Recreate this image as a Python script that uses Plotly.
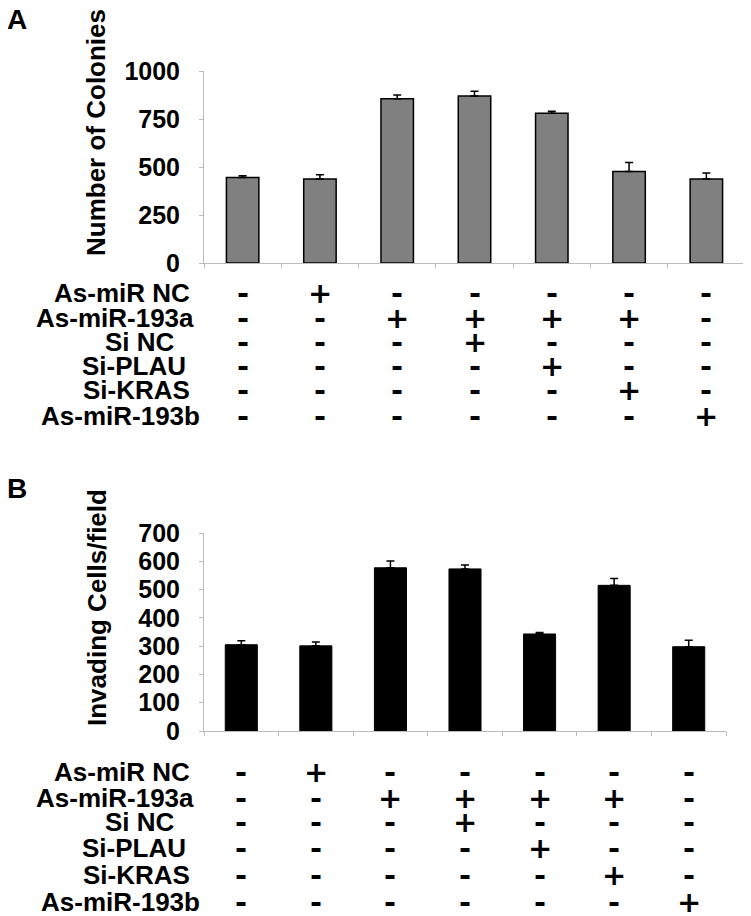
import plotly.graph_objects as go

# the page body adds an 8px margin, so the figure is a little smaller than the window
PAGE_OFF = 8
W, H = 751 - PAGE_OFF, 916 - PAGE_OFF

groups = ["G1", "G2", "G3", "G4", "G5", "G6", "G7"]

colonies = [445, 437, 856, 870, 780, 477, 437]
colonies_err = [9, 22, 19, 24, 10, 47, 32]

invading = [305, 301, 577, 573, 343, 515, 298]
invading_err = [14, 14, 24, 14, 5, 24, 23]

row_labels = ["As-miR NC", "As-miR-193a", "Si NC", "Si-PLAU", "Si-KRAS", "As-miR-193b"]
treatment = [
    ["-", "+", "-", "-", "-", "-", "-"],
    ["-", "-", "+", "+", "+", "+", "-"],
    ["-", "-", "-", "+", "-", "-", "-"],
    ["-", "-", "-", "-", "+", "-", "-"],
    ["-", "-", "-", "-", "-", "+", "-"],
    ["-", "-", "-", "-", "-", "-", "+"],
]

FONT = "Arial, Liberation Sans, sans-serif"
MARK_FONT = "DejaVu Sans, Arial, sans-serif"


def py(px):
    # page pixel row (from top) -> paper y
    return 1 - (px - PAGE_OFF) / H


def pxx(px):
    return (px - PAGE_OFF) / W


fig = go.Figure()

fig.add_trace(go.Bar(
    x=groups, y=colonies, width=0.42,
    marker=dict(color="#808080", line=dict(color="black", width=1.5)),
    error_y=dict(type="data", array=colonies_err, arrayminus=[0] * 7,
                 color="black", thickness=1.5, width=4),
    xaxis="x", yaxis="y", showlegend=False,
))

fig.add_trace(go.Bar(
    x=groups, y=invading, width=0.43,
    marker=dict(color="black", line=dict(color="black", width=1)),
    error_y=dict(type="data", array=invading_err, arrayminus=[0] * 7,
                 color="black", thickness=1.5, width=4),
    xaxis="x2", yaxis="y2", showlegend=False,
))

axis_common = dict(showgrid=False, zeroline=False, showline=True,
                   linecolor="#bbbbbb", linewidth=1, ticks="outside",
                   tickcolor="#bbbbbb", ticklen=4, automargin=False)

fig.update_layout(
    width=W, height=H,
    margin=dict(l=0, r=0, t=0, b=0),
    paper_bgcolor="white", plot_bgcolor="white",
    font=dict(family=FONT, color="black"),
    xaxis=dict(domain=[pxx(204), pxx(745)], anchor="y", showticklabels=False,
               tickson="boundaries", **axis_common),
    yaxis=dict(domain=[py(263), py(71)], anchor="x", range=[0, 1000],
               tickvals=[0, 250, 500, 750, 1000], ticklabelstandoff=14,
               tickfont=dict(size=25, family=FONT, weight="bold"), **axis_common),
    xaxis2=dict(domain=[pxx(204), pxx(726)], anchor="y2", showticklabels=False,
                tickson="boundaries", **axis_common),
    yaxis2=dict(domain=[py(731), py(533)], anchor="x2", range=[0, 700],
                dtick=100, ticklabelstandoff=14,
                tickfont=dict(size=25, family=FONT, weight="bold"), **axis_common),
)

ann = []
bold = dict(family=FONT, size=26, color="black", weight="bold")
mark = dict(family=MARK_FONT, size=29, color="black", weight="bold")
centered = dict(xanchor="center", yanchor="middle", showarrow=False)

# panel letters
ann.append(dict(text="A", x=pxx(17), y=py(20), xref="paper", yref="paper",
                font=dict(family=FONT, size=28, weight="bold"), **centered))
ann.append(dict(text="B", x=pxx(17), y=py(488), xref="paper", yref="paper",
                font=dict(family=FONT, size=28, weight="bold"), **centered))

# y axis titles
ann.append(dict(text="Number of Colonies", textangle=-90, x=pxx(96), y=py(133),
                xref="paper", yref="paper", font=bold, **centered))
ann.append(dict(text="Invading Cells/field", textangle=-90, x=pxx(97), y=py(608),
                xref="paper", yref="paper", font=bold, **centered))

# treatment tables
label_x = [122, 115, 140, 134, 136, 120]
rows_a = [293, 318, 342, 366, 390, 416]
rows_b = [772, 798, 822, 848, 875, 902]

for xr, rows in (("x", rows_a), ("x2", rows_b)):
    for i, lab in enumerate(row_labels):
        ann.append(dict(text=lab, x=pxx(label_x[i]), y=py(rows[i]), xref="paper",
                        yref="paper", font=bold, **centered))
        for j, g in enumerate(groups):
            ann.append(dict(text=treatment[i][j], x=g, y=py(rows[i]), xref=xr,
                            yref="paper", font=mark, **centered))

fig.update_layout(annotations=ann)

fig.write_html("out.html")
